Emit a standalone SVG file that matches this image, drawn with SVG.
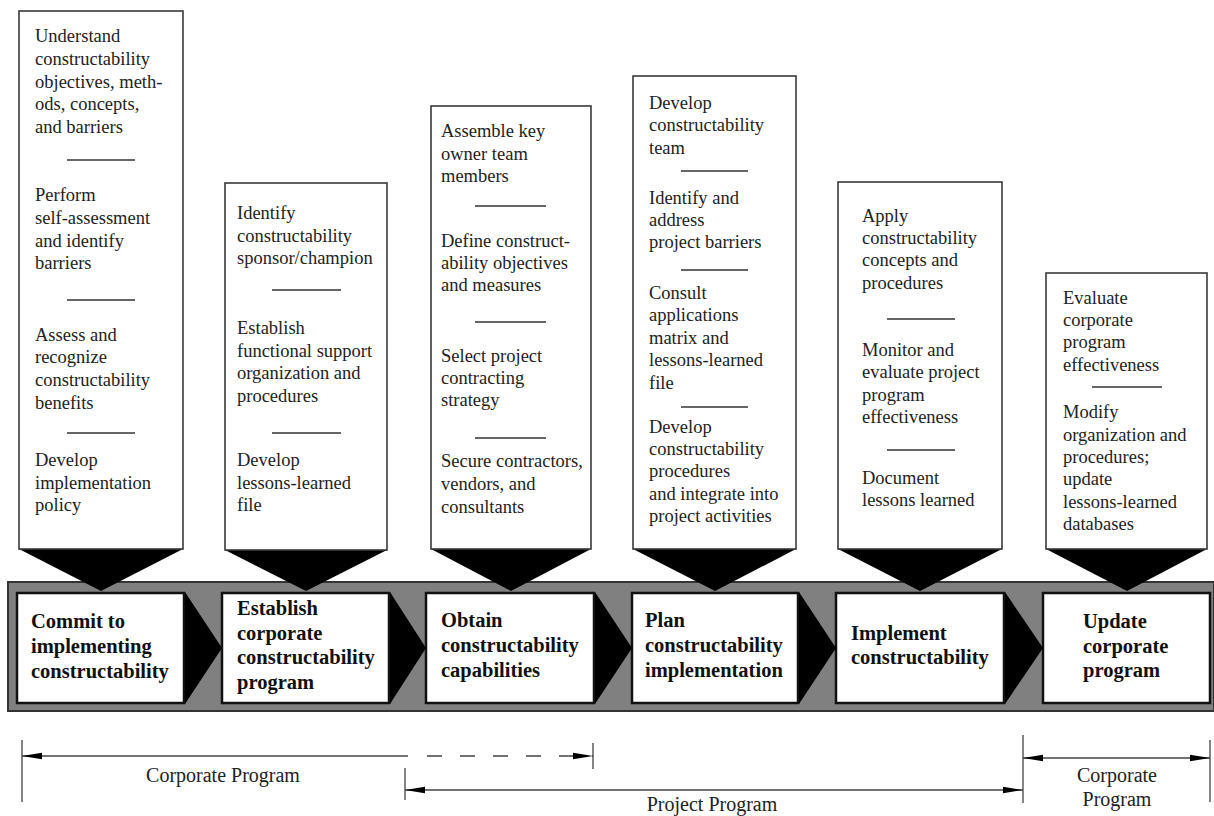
<svg xmlns="http://www.w3.org/2000/svg" width="1214" height="816" viewBox="0 0 1214 816">
<defs>
<style>
.tb{fill:#fff;stroke:#3a3a3a;stroke-width:1.6}
.sep{stroke:#333;stroke-width:1.6}
.t{font-family:"Liberation Serif","Times New Roman",serif;font-size:18.5px;fill:#222}
.pb{fill:#fff;stroke:#111;stroke-width:2.5}
.b{font-family:"Liberation Serif","Times New Roman",serif;font-size:20.5px;font-weight:bold;fill:#111}
.blk{fill:#000}
.ln{stroke:#444;stroke-width:1.3;fill:none}
.tk{stroke:#666;stroke-width:1.6}
.lbl{font-family:"Liberation Serif","Times New Roman",serif;font-size:20px;fill:#222;text-anchor:middle}
</style>
<marker id="ah" viewBox="0 0 20 8" refX="20" refY="4" markerWidth="20" markerHeight="8" markerUnits="userSpaceOnUse" orient="auto-start-reverse">
<path d="M0,0.8 L20,4 L0,7.2 z" fill="#000"/>
</marker>
</defs>
<rect width="1214" height="816" fill="#fff"/>

<rect id="band" x="8" y="582" width="1206" height="129" fill="#808080" stroke="#333" stroke-width="2"/>

<g id="task1">
<polygon class="blk" points="19,549 183,549 101,591"/>
<rect class="tb" x="19" y="11" width="164" height="538"/>
<text class="t"><tspan x="35" y="42">Understand</tspan><tspan x="35" y="65">constructability</tspan><tspan x="35" y="88">objectives, meth-</tspan><tspan x="35" y="110">ods, concepts,</tspan><tspan x="35" y="133">and barriers</tspan></text>
<line class="sep" x1="67" y1="160" x2="135" y2="160"/>
<text class="t"><tspan x="35" y="201">Perform</tspan><tspan x="35" y="224">self-assessment</tspan><tspan x="35" y="247">and identify</tspan><tspan x="35" y="269">barriers</tspan></text>
<line class="sep" x1="67" y1="300" x2="135" y2="300"/>
<text class="t"><tspan x="35" y="341">Assess and</tspan><tspan x="35" y="363">recognize</tspan><tspan x="35" y="386">constructability</tspan><tspan x="35" y="409">benefits</tspan></text>
<line class="sep" x1="67" y1="433" x2="135" y2="433"/>
<text class="t"><tspan x="35" y="466">Develop</tspan><tspan x="35" y="489">implementation</tspan><tspan x="35" y="511">policy</tspan></text>
</g>

<g id="task2">
<polygon class="blk" points="225,550 387,550 306,591"/>
<rect class="tb" x="225" y="183" width="162" height="367"/>
<text class="t"><tspan x="237" y="219">Identify</tspan><tspan x="237" y="242">constructability</tspan><tspan x="237" y="264">sponsor/champion</tspan></text>
<line class="sep" x1="272" y1="290" x2="341" y2="290"/>
<text class="t"><tspan x="237" y="334">Establish</tspan><tspan x="237" y="357">functional support</tspan><tspan x="237" y="379">organization and</tspan><tspan x="237" y="402">procedures</tspan></text>
<line class="sep" x1="272" y1="433" x2="341" y2="433"/>
<text class="t"><tspan x="237" y="466">Develop</tspan><tspan x="237" y="489">lessons-learned</tspan><tspan x="237" y="511">file</tspan></text>
</g>

<g id="task3">
<polygon class="blk" points="431,549 591,549 511,591"/>
<rect class="tb" x="431" y="106" width="160" height="443"/>
<text class="t"><tspan x="441" y="137">Assemble key</tspan><tspan x="441" y="160">owner team</tspan><tspan x="441" y="182">members</tspan></text>
<line class="sep" x1="475" y1="206" x2="546" y2="206"/>
<text class="t"><tspan x="441" y="247">Define construct-</tspan><tspan x="441" y="269">ability objectives</tspan><tspan x="441" y="291">and measures</tspan></text>
<line class="sep" x1="475" y1="322" x2="546" y2="322"/>
<text class="t"><tspan x="441" y="362">Select project</tspan><tspan x="441" y="384">contracting</tspan><tspan x="441" y="406">strategy</tspan></text>
<line class="sep" x1="475" y1="438" x2="546" y2="438"/>
<text class="t"><tspan x="441" y="467">Secure contractors,</tspan><tspan x="441" y="490">vendors, and</tspan><tspan x="441" y="513">consultants</tspan></text>
</g>

<g id="task4">
<polygon class="blk" points="633,549 796,549 715,591"/>
<rect class="tb" x="633" y="76" width="163" height="473"/>
<text class="t"><tspan x="649" y="109">Develop</tspan><tspan x="649" y="131">constructability</tspan><tspan x="649" y="154">team</tspan></text>
<line class="sep" x1="681" y1="171" x2="748" y2="171"/>
<text class="t"><tspan x="649" y="204">Identify and</tspan><tspan x="649" y="226">address</tspan><tspan x="649" y="248">project barriers</tspan></text>
<line class="sep" x1="681" y1="270" x2="748" y2="270"/>
<text class="t"><tspan x="649" y="299">Consult</tspan><tspan x="649" y="321">applications</tspan><tspan x="649" y="344">matrix and</tspan><tspan x="649" y="366">lessons-learned</tspan><tspan x="649" y="389">file</tspan></text>
<line class="sep" x1="681" y1="407" x2="748" y2="407"/>
<text class="t"><tspan x="649" y="433">Develop</tspan><tspan x="649" y="455">constructability</tspan><tspan x="649" y="477">procedures</tspan><tspan x="649" y="500">and integrate into</tspan><tspan x="649" y="522">project activities</tspan></text>
</g>

<g id="task5">
<polygon class="blk" points="838,549 1002,549 920,591"/>
<rect class="tb" x="838" y="182" width="164" height="367"/>
<text class="t"><tspan x="862" y="222">Apply</tspan><tspan x="862" y="244">constructability</tspan><tspan x="862" y="266">concepts and</tspan><tspan x="862" y="289">procedures</tspan></text>
<line class="sep" x1="887" y1="319" x2="955" y2="319"/>
<text class="t"><tspan x="862" y="356">Monitor and</tspan><tspan x="862" y="378">evaluate project</tspan><tspan x="862" y="401">program</tspan><tspan x="862" y="423">effectiveness</tspan></text>
<line class="sep" x1="887" y1="450" x2="955" y2="450"/>
<text class="t"><tspan x="862" y="484">Document</tspan><tspan x="862" y="506">lessons learned</tspan></text>
</g>

<g id="task6">
<polygon class="blk" points="1046,549 1207,549 1127,591"/>
<rect class="tb" x="1046" y="273" width="161" height="276"/>
<text class="t"><tspan x="1063" y="304">Evaluate</tspan><tspan x="1063" y="326">corporate</tspan><tspan x="1063" y="348">program</tspan><tspan x="1063" y="371">effectiveness</tspan></text>
<line class="sep" x1="1092" y1="387" x2="1162" y2="387"/>
<text class="t"><tspan x="1063" y="418">Modify</tspan><tspan x="1063" y="441">organization and</tspan><tspan x="1063" y="463">procedures;</tspan><tspan x="1063" y="485">update</tspan><tspan x="1063" y="508">lessons-learned</tspan><tspan x="1063" y="530">databases</tspan></text>
</g>

<g id="step1">
<rect class="pb" x="17" y="593" width="167" height="110"/>
<text class="b"><tspan x="31" y="628">Commit to</tspan><tspan x="31" y="653">implementing</tspan><tspan x="31" y="678">constructability</tspan></text>
</g>
<g id="step2">
<rect class="pb" x="222" y="593" width="167" height="110"/>
<text class="b"><tspan x="237" y="615">Establish</tspan><tspan x="237" y="640">corporate</tspan><tspan x="237" y="664">constructability</tspan><tspan x="237" y="689">program</tspan></text>
</g>
<g id="step3">
<rect class="pb" x="426" y="593" width="168" height="110"/>
<text class="b"><tspan x="441" y="627">Obtain</tspan><tspan x="441" y="652">constructability</tspan><tspan x="441" y="677">capabilities</tspan></text>
</g>
<g id="step4">
<rect class="pb" x="632" y="593" width="166" height="110"/>
<text class="b"><tspan x="645" y="627">Plan</tspan><tspan x="645" y="652">constructability</tspan><tspan x="645" y="677">implementation</tspan></text>
</g>
<g id="step5">
<rect class="pb" x="836" y="593" width="168" height="110"/>
<text class="b"><tspan x="851" y="640">Implement</tspan><tspan x="851" y="664">constructability</tspan></text>
</g>
<g id="step6">
<rect class="pb" x="1043" y="593" width="167" height="110"/>
<text class="b"><tspan x="1083" y="628">Update</tspan><tspan x="1083" y="653">corporate</tspan><tspan x="1083" y="677">program</tspan></text>
</g>

<g id="connectors">
<polygon class="blk" points="185,592 222,648 185,704"/>
<polygon class="blk" points="390,592 426,648 390,704"/>
<polygon class="blk" points="595,592 632,648 595,704"/>
<polygon class="blk" points="799,592 836,648 799,704"/>
<polygon class="blk" points="1005,592 1043,648 1005,704"/>

<line class="tk" x1="22" y1="740" x2="22" y2="802"/>
<line class="tk" x1="593" y1="743" x2="593" y2="769"/>
<line class="tk" x1="405" y1="768" x2="405" y2="800"/>
<line class="tk" x1="1023" y1="735" x2="1023" y2="803"/>
<line class="tk" x1="1210" y1="740" x2="1210" y2="802"/>

<path class="ln" d="M22,756 H408" marker-start="url(#ah)"/>
<path class="ln" d="M427,756 H593" stroke-dasharray="15 18" marker-end="url(#ah)"/>
<path class="ln" d="M405,790 H1023" marker-start="url(#ah)" marker-end="url(#ah)"/>
<path class="ln" d="M1023,758 H1210" marker-start="url(#ah)" marker-end="url(#ah)"/>
</g>

<text class="lbl" x="223" y="782">Corporate Program</text>
<text class="lbl" x="712" y="811">Project Program</text>
<text class="lbl"><tspan x="1117" y="782">Corporate</tspan><tspan x="1117" y="806">Program</tspan></text>
</svg>
